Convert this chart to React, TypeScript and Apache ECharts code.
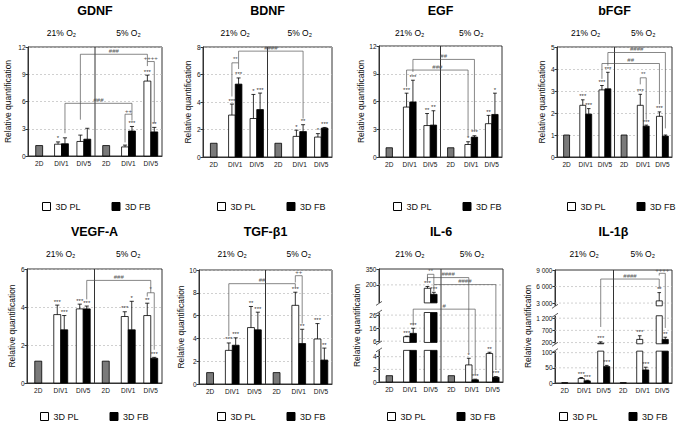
import { useEffect, useRef } from 'react';
import * as echarts from 'echarts';

const categories = ['2D', 'DIV1', 'DIV5', '2D', 'DIV1', 'DIV5'];
const conditions = ['21% O₂', '5% O₂'];
const seriesNames = ['3D PL', '3D FB'];
const yAxisName = 'Relative quantification';

// bracket: [cat1, side1, cat2, side2, level, end1, end2, label]   side: -1 PL, 1 FB, 0 centre
// GDNF
const gdnfTwoD = [1.15, 1.15];
const gdnfPL = [1.3, 1.6, 1.0, 8.25];
const gdnfPLErr = [1.55, 2.3, 1.2, 8.9];
const gdnfPLSig = ['*', '', '', '***'];
const gdnfFB = [1.35, 1.85, 2.75, 2.65];
const gdnfFBErr = [2.0, 3.05, 3.25, 3.15];
const gdnfFBSig = ['', '', '***', '**'];
const gdnfBrackets = [
  [4, -1, 4, 1, 4.6, 1.5, 3.9, '++'],
  [5, -1, 5, 1, 10.4, 9.9, 3.6, '++++'],
  [1, 1, 4, 1, 5.8, 2.5, 4.6, '###'],
  [2, -1, 5, -1, 11.2, 4.0, 10.4, '###'],
];

// BDNF
const bdnfTwoD = [1.0, 1.0];
const bdnfPL = [3.05, 2.8, 1.5, 1.45];
const bdnfPLErr = [3.85, 4.55, 1.95, 1.7];
const bdnfPLSig = ['***', '*', '*', '*'];
const bdnfFB = [5.3, 3.45, 1.85, 2.1];
const bdnfFBErr = [5.75, 4.65, 2.35, 2.15];
const bdnfFBSig = ['***', '***', '**', '***'];
const bdnfBrackets = [
  [1, -1, 1, 1, 6.85, 4.4, 6.4, '**'],
  [1, 1, 4, 1, 7.7, 6.85, 2.8, '####'],
];

// EGF
const egfTwoD = [1.0, 1.0];
const egfPL = [5.4, 3.4, 1.35, 3.6];
const egfPLErr = [6.9, 4.7, 1.65, 4.5];
const egfPLSig = ['***', '**', '*', '**'];
const egfFB = [5.95, 3.45, 2.15, 4.6];
const egfFBErr = [8.3, 5.0, 2.3, 6.9];
const egfFBSig = ['***', '**', '***', '*'];
const egfBrackets = [
  [1, 1, 4, 1, 10.55, 9.2, 2.9, '##'],
  [1, -1, 4, -1, 9.4, 7.6, 2.2, '###'],
];

// bFGF
const bfgfTwoD = [1.0, 1.0];
const bfgfPL = [2.35, 3.05, 2.35, 1.85];
const bfgfPLErr = [2.6, 3.25, 2.85, 2.05];
const bfgfPLSig = ['***', '***', '***', '***'];
const bfgfFB = [1.95, 3.1, 1.4, 0.95];
const bfgfFBErr = [2.2, 3.85, 1.45, 1.0];
const bfgfFBSig = ['***', '***', '***', ''];
const bfgfBrackets = [
  [4, -1, 4, 1, 3.6, 3.3, 1.7, '**'],
  [2, -1, 5, -1, 4.25, 3.55, 2.4, '##'],
  [2, 1, 5, 1, 4.75, 4.15, 1.3, '####'],
];

// VEGF-A
const vegfTwoD = [1.15, 1.15];
const vegfPL = [3.6, 3.9, 3.5, 3.55];
const vegfPLErr = [4.1, 4.15, 3.75, 4.2];
const vegfPLSig = ['***', '***', '***', '**'];
const vegfFB = [2.8, 3.9, 2.8, 1.3];
const vegfFBErr = [3.55, 4.05, 4.3, 1.35];
const vegfFBSig = ['***', '***', '*', '***'];
const vegfBrackets = [
  [5, -1, 5, 1, 4.75, 4.55, 1.75, '*'],
  [2, 1, 5, 0, 5.4, 4.4, 4.75, '###'],
];

// TGF-β1
const tgfTwoD = [1.0, 1.0];
const tgfPL = [2.95, 4.95, 6.9, 3.95];
const tgfPLErr = [3.6, 6.8, 8.05, 5.3];
const tgfPLSig = ['***', '**', '***', '***'];
const tgfFB = [3.4, 4.75, 3.55, 2.1];
const tgfFBErr = [4.05, 6.3, 4.8, 3.15];
const tgfFBSig = ['***', '***', '**', '**'];
const tgfBrackets = [
  [1, -1, 4, -1, 8.8, 4.2, 8.5, '##'],
  [4, -1, 4, 1, 9.5, 8.9, 5.3, '++'],
];

// IL-6 (broken axis)
const il6Ticks = [0, 2, 4, 6, 16, 26, 200, 350];
const il6TickLabels = ['0', '2', '4', '6', '16', '26', '200', '350'];
const il6TwoD = [1.0, 1.0];
const il6PL = [9.4, 168, 2.7, 4.5];
const il6PLErr = [9.8, 185, 3.75, 4.7];
const il6PLSig = ['***', '***', '*', '**'];
const il6FB = [12, 111, 0.35, 0.75];
const il6FBErr = [15.9, 130, 0.45, 0.85];
const il6FBSig = ['***', '***', '***', '***'];
const il6Brackets = [
  [2, -1, 2, 1, 300, 240, 205, '**'],
  [2, -1, 4, -1, 269, 240, 4.6, '####'],
  [2, 1, 5, 1, 203, 140, 1.9, '####'],
  [1, 1, 4, 1, 28.7, 18, 1.2, '#'],
];

// IL-1β (broken axis)
const il1bTicks = [0, 50, 100, 200, 700, 1200, 3000, 6000, 9000];
const il1bTickLabels = ['0', '50', '100', '200', '700', '1 200', '3 000', '6 000', '9 000'];
const il1bTwoD = [1, 1];
const il1bPL = [15, 175, 330, 3400];
const il1bPLErr = [18, 230, 480, 4900];
const il1bPLSig = ['***', '***', '***', '**'];
const il1bFB = [7, 54, 43, 330];
const il1bFBErr = [9, 58, 52, 420];
const il1bFBSig = ['***', '***', '***', '**'];
const il1bBrackets = [
  [2, -1, 5, -1, 7360, 840, 5600, '####'],
  [5, -1, 5, 1, 8400, 8000, 800, '++++'],
];

// ---------- layout (not data) ----------
const il6Segments = [[0, 5, 0, 28], [5, 28, 35, 61.5], [30, 350, 70, 100]];
const il1bSegments = [[0, 105, 0, 28.2], [150, 1300, 34.7, 59.5], [2500, 9000, 68.3, 100]];
const gridBoxes = [
  [28, 47, 134, 109],
  [203, 47, 129, 110],
  [379, 46, 123, 111],
  [557, 47, 115, 110],
  [27, 269, 135, 114],
  [199, 270, 133, 114],
  [379, 269, 124, 113],
  [555, 270, 117, 113],
];
const nameGaps = [16, 11, 11, 9, 10, 7, 14, 19];
const legendLefts = [37, 212, 388, 562, 35, 212, 382, 554];
const titleY = [11, 232];
const condY = [33, 254];
const legendTop = [197, 407];
const FONT = "'Liberation Sans', Arial, sans-serif";
const TITLE_FONT = "'Liberation Sans Narrow', 'Liberation Sans', Arial, sans-serif";

const panels: any[] = [
  { title: 'GDNF', yMax: 12, interval: 3, twoD: gdnfTwoD, pl: gdnfPL, plErr: gdnfPLErr, plSig: gdnfPLSig, fb: gdnfFB, fbErr: gdnfFBErr, fbSig: gdnfFBSig, brackets: gdnfBrackets },
  { title: 'BDNF', yMax: 8, interval: 2, twoD: bdnfTwoD, pl: bdnfPL, plErr: bdnfPLErr, plSig: bdnfPLSig, fb: bdnfFB, fbErr: bdnfFBErr, fbSig: bdnfFBSig, brackets: bdnfBrackets },
  { title: 'EGF', yMax: 12, interval: 3, twoD: egfTwoD, pl: egfPL, plErr: egfPLErr, plSig: egfPLSig, fb: egfFB, fbErr: egfFBErr, fbSig: egfFBSig, brackets: egfBrackets },
  { title: 'bFGF', yMax: 5, interval: 1, twoD: bfgfTwoD, pl: bfgfPL, plErr: bfgfPLErr, plSig: bfgfPLSig, fb: bfgfFB, fbErr: bfgfFBErr, fbSig: bfgfFBSig, brackets: bfgfBrackets },
  { title: 'VEGF-A', yMax: 6, interval: 2, twoD: vegfTwoD, pl: vegfPL, plErr: vegfPLErr, plSig: vegfPLSig, fb: vegfFB, fbErr: vegfFBErr, fbSig: vegfFBSig, brackets: vegfBrackets },
  { title: 'TGF-β1', yMax: 10, interval: 2, twoD: tgfTwoD, pl: tgfPL, plErr: tgfPLErr, plSig: tgfPLSig, fb: tgfFB, fbErr: tgfFBErr, fbSig: tgfFBSig, brackets: tgfBrackets },
  { title: 'IL-6', segments: il6Segments, ticks: il6Ticks, tickLabels: il6TickLabels, twoD: il6TwoD, pl: il6PL, plErr: il6PLErr, plSig: il6PLSig, fb: il6FB, fbErr: il6FBErr, fbSig: il6FBSig, brackets: il6Brackets },
  { title: 'IL-1β', segments: il1bSegments, ticks: il1bTicks, tickLabels: il1bTickLabels, twoD: il1bTwoD, pl: il1bPL, plErr: il1bPLErr, plSig: il1bPLSig, fb: il1bFB, fbErr: il1bFBErr, fbSig: il1bFBSig, brackets: il1bBrackets },
];

function makeTransform(segs: number[][] | null) {
  return (v: number) => {
    if (!segs) return v;
    for (let i = 0; i < segs.length; i++) {
      const [a, b, ta, tb] = segs[i];
      if (v < a) {
        if (i === 0) return ta;
        const pb = segs[i - 1][1];
        const ptb = segs[i - 1][3];
        return ptb + ((v - pb) / (a - pb)) * (ta - ptb);
      }
      if (v <= b) return ta + ((v - a) / (b - a)) * (tb - ta);
    }
    return segs[segs.length - 1][3];
  };
}

function buildOption() {
  const grid: any[] = [];
  const xAxis: any[] = [];
  const yAxis: any[] = [];
  const series: any[] = [];
  const legend: any[] = [];
  const graphic: any[] = [];

  panels.forEach((p, i) => {
    const [l, t, w, h] = gridBoxes[i];
    const row = i < 4 ? 0 : 1;
    const tf = makeTransform(p.segments || null);
    const segs: number[][] = p.segments || [[0, p.yMax, 0, p.yMax]];
    const tTop = p.segments ? 100 : p.yMax;

    grid.push({ left: l, top: t, width: w, height: h, show: true, borderColor: '#333', borderWidth: 1 });
    xAxis.push({
      type: 'category', gridIndex: i, data: categories,
      axisLine: { lineStyle: { color: '#333', width: 1 } },
      axisTick: { alignWithLabel: true, length: 3, lineStyle: { color: '#333' } },
      axisLabel: { fontSize: 6.5, margin: 4, color: '#111', interval: 0, fontFamily: FONT },
      splitLine: { show: false },
    });
    const ya: any = {
      type: 'value', gridIndex: i, name: yAxisName, nameLocation: 'middle', nameGap: nameGaps[i],
      nameTextStyle: { fontSize: 8.5, color: '#111', fontFamily: FONT },
      axisLine: { show: true, lineStyle: { color: '#333' } },
      axisTick: { show: true, length: 2.5, lineStyle: { color: '#333' } },
      axisLabel: { fontSize: 6.5, margin: 2.5, color: '#111', fontFamily: FONT },
      splitLine: { show: true, lineStyle: { type: [2, 2], color: '#bbb', width: 0.7 } },
    };
    if (p.segments) {
      const tv = p.ticks.map(tf);
      ya.min = 0; ya.max = 100;
      ya.axisLabel.customValues = tv;
      ya.axisTick.customValues = tv;
      ya.axisLabel.formatter = (val: number) => {
        let best = 0;
        tv.forEach((x: number, k: number) => { if (Math.abs(x - val) < Math.abs(tv[best] - val)) best = k; });
        return p.tickLabels[best];
      };
      ya.splitLine = { show: false };
    } else {
      ya.min = 0; ya.max = p.yMax; ya.interval = p.interval;
    }
    yAxis.push(ya);

    // bars
    const items: any[] = [];
    p.twoD.forEach((v: number, k: number) => items.push({ cat: k * 3, side: 0, v, err: v, sig: '', kind: 0 }));
    [1, 2, 4, 5].forEach((cat, k) => {
      items.push({ cat, side: -1, v: p.pl[k], err: p.plErr[k], sig: p.plSig[k], kind: 1 });
      items.push({ cat, side: 1, v: p.fb[k], err: p.fbErr[k], sig: p.fbSig[k], kind: 2 });
    });

    // frame: divider, grid lines for broken axes, break marks
    series.push({
      type: 'custom', xAxisIndex: i, yAxisIndex: i, silent: true, z: 2,
      data: [[0, 0]],
      renderItem: (_params: any, api: any) => {
        const band = api.size([1, 0])[0];
        const children: any[] = [];
        const x0 = api.coord([0, 0])[0] - band / 2;
        const x1 = api.coord([5, 0])[0] + band / 2;
        const Yt = (tt: number) => api.coord([0, tt])[1];
        if (p.segments) {
          p.ticks.forEach((v: number) => {
            const tt = tf(v);
            if (tt <= 0 || tt >= 100) return;
            children.push({ type: 'line', shape: { x1: x0, y1: Yt(tt), x2: x1, y2: Yt(tt) }, style: { stroke: '#bbb', lineWidth: 0.7, lineDash: [2, 2] } });
          });
          for (let k = 0; k < segs.length - 1; k++) {
            const yb = Yt(segs[k][3]);
            const ytp = Yt(segs[k + 1][2]);
            children.push({ type: 'rect', shape: { x: x0 - 1.5, y: ytp, width: 3, height: yb - ytp }, style: { fill: '#fff' } });
            children.push({ type: 'line', shape: { x1: x0 - 3, y1: yb + 1.5, x2: x0 + 3, y2: yb - 2.5 }, style: { stroke: '#333', lineWidth: 0.8 } });
            children.push({ type: 'line', shape: { x1: x0 - 3, y1: ytp + 2.5, x2: x0 + 3, y2: ytp - 1.5 }, style: { stroke: '#333', lineWidth: 0.8 } });
          }
        }
        const xd = api.coord([2, 0])[0] + band / 2;
        children.push({ type: 'line', shape: { x1: xd, y1: Yt(0), x2: xd, y2: Yt(tTop) }, style: { stroke: '#333', lineWidth: 1 } });
        return { type: 'group', children };
      },
    });

    series.push({
      type: 'custom', xAxisIndex: i, yAxisIndex: i, silent: true, z: 3,
      data: items.map((it) => [it.cat, tf(it.err)]),
      renderItem: (params: any, api: any) => {
        const it = items[params.dataIndex];
        const band = api.size([1, 0])[0];
        const bw = band * 0.31;
        const cx = api.coord([it.cat, 0])[0] + (it.side * bw) / 2;
        const Yt = (tt: number) => api.coord([it.cat, tt])[1];
        const Y = (v: number) => Yt(tf(v));
        const fill = it.kind === 0 ? '#7a7a7a' : it.kind === 1 ? '#fff' : '#000';
        const children: any[] = [];
        segs.forEach(([a, b, ta, tb]) => {
          if (it.v <= a) return;
          const t1 = ta + ((Math.min(it.v, b) - a) / (b - a)) * (tb - ta);
          const y0 = Yt(ta);
          const y1 = Yt(t1);
          children.push({ type: 'rect', shape: { x: cx - bw / 2, y: y1, width: bw, height: y0 - y1 }, style: { fill, stroke: '#000', lineWidth: 0.8 } });
        });
        if (it.err > it.v) {
          const ye = Y(it.err);
          children.push({ type: 'line', shape: { x1: cx, y1: Y(it.v), x2: cx, y2: ye }, style: { stroke: '#000', lineWidth: 0.8 } });
          children.push({ type: 'line', shape: { x1: cx - bw * 0.3, y1: ye, x2: cx + bw * 0.3, y2: ye }, style: { stroke: '#000', lineWidth: 0.8 } });
        }
        if (it.sig) {
          children.push({ type: 'text', style: { text: it.sig, x: cx, y: Y(Math.max(it.err, it.v)) - 0.5, align: 'center', verticalAlign: 'bottom', fontSize: 6, fontFamily: FONT, fill: '#333' } });
        }
        return { type: 'group', children };
      },
    });

    // brackets
    series.push({
      type: 'custom', xAxisIndex: i, yAxisIndex: i, silent: true, z: 4,
      data: p.brackets.map((b: any[]) => [b[0], tf(b[4])]),
      renderItem: (params: any, api: any) => {
        const [c1, s1, c2, s2, lvl, e1, e2, lab] = p.brackets[params.dataIndex];
        const band = api.size([1, 0])[0];
        const bw = band * 0.31;
        const xa = api.coord([c1, 0])[0] + (s1 * bw) / 2;
        const xb = api.coord([c2, 0])[0] + (s2 * bw) / 2;
        const Y = (v: number) => api.coord([c1, tf(v)])[1];
        const yl = Y(lvl);
        return {
          type: 'group',
          children: [
            { type: 'polyline', shape: { points: [[xa, Y(e1)], [xa, yl], [xb, yl], [xb, Y(e2)]] }, style: { stroke: '#555', lineWidth: 0.7, fill: 'none' } },
            { type: 'text', style: { text: lab, x: (xa + xb) / 2, y: yl - 0.5, align: 'center', verticalAlign: 'bottom', fontSize: 6, fontFamily: FONT, fill: '#555' } },
          ],
        };
      },
    });

    legend.push({
      left: legendLefts[i], top: legendTop[row], orient: 'horizontal', icon: 'rect',
      itemWidth: 8, itemHeight: 8, itemGap: 31, selectedMode: false,
      textStyle: { fontSize: 9, fontFamily: FONT, color: '#111' },
      data: [
        { name: seriesNames[0], itemStyle: { color: '#fff', borderColor: '#000', borderWidth: 1 } },
        { name: seriesNames[1], itemStyle: { color: '#000', borderColor: '#000', borderWidth: 1 } },
      ],
    });

    graphic.push({ type: 'text', x: l + w / 2, y: titleY[row], style: { text: p.title, align: 'center', verticalAlign: 'middle', fontSize: 12.5, fontWeight: 'bold', fontFamily: TITLE_FONT, fill: '#000' } });
    graphic.push({ type: 'text', x: l + w / 4, y: condY[row], style: { text: conditions[0], align: 'center', verticalAlign: 'middle', fontSize: 8.5, fontFamily: FONT, fill: '#000' } });
    graphic.push({ type: 'text', x: l + (3 * w) / 4, y: condY[row], style: { text: conditions[1], align: 'center', verticalAlign: 'middle', fontSize: 8.5, fontFamily: FONT, fill: '#000' } });
  });

  series.push({ type: 'bar', name: seriesNames[0], data: [], xAxisIndex: 0, yAxisIndex: 0, itemStyle: { color: '#fff', borderColor: '#000', borderWidth: 1 } });
  series.push({ type: 'bar', name: seriesNames[1], data: [], xAxisIndex: 0, yAxisIndex: 0, itemStyle: { color: '#000' } });

  return { animation: false, backgroundColor: '#fff', textStyle: { fontFamily: FONT }, grid, xAxis, yAxis, series, legend, graphic };
}

export default function App() {
  const ref = useRef<HTMLDivElement>(null);
  useEffect(() => {
    if (!ref.current) return;
    const chart = echarts.init(ref.current, undefined, { renderer: 'svg' });
    chart.setOption(buildOption() as any);
    return () => chart.dispose();
  }, []);
  return <div ref={ref} style={{ position: 'fixed', left: 0, top: 0, width: 685, height: 423, background: '#fff' }} />;
}
